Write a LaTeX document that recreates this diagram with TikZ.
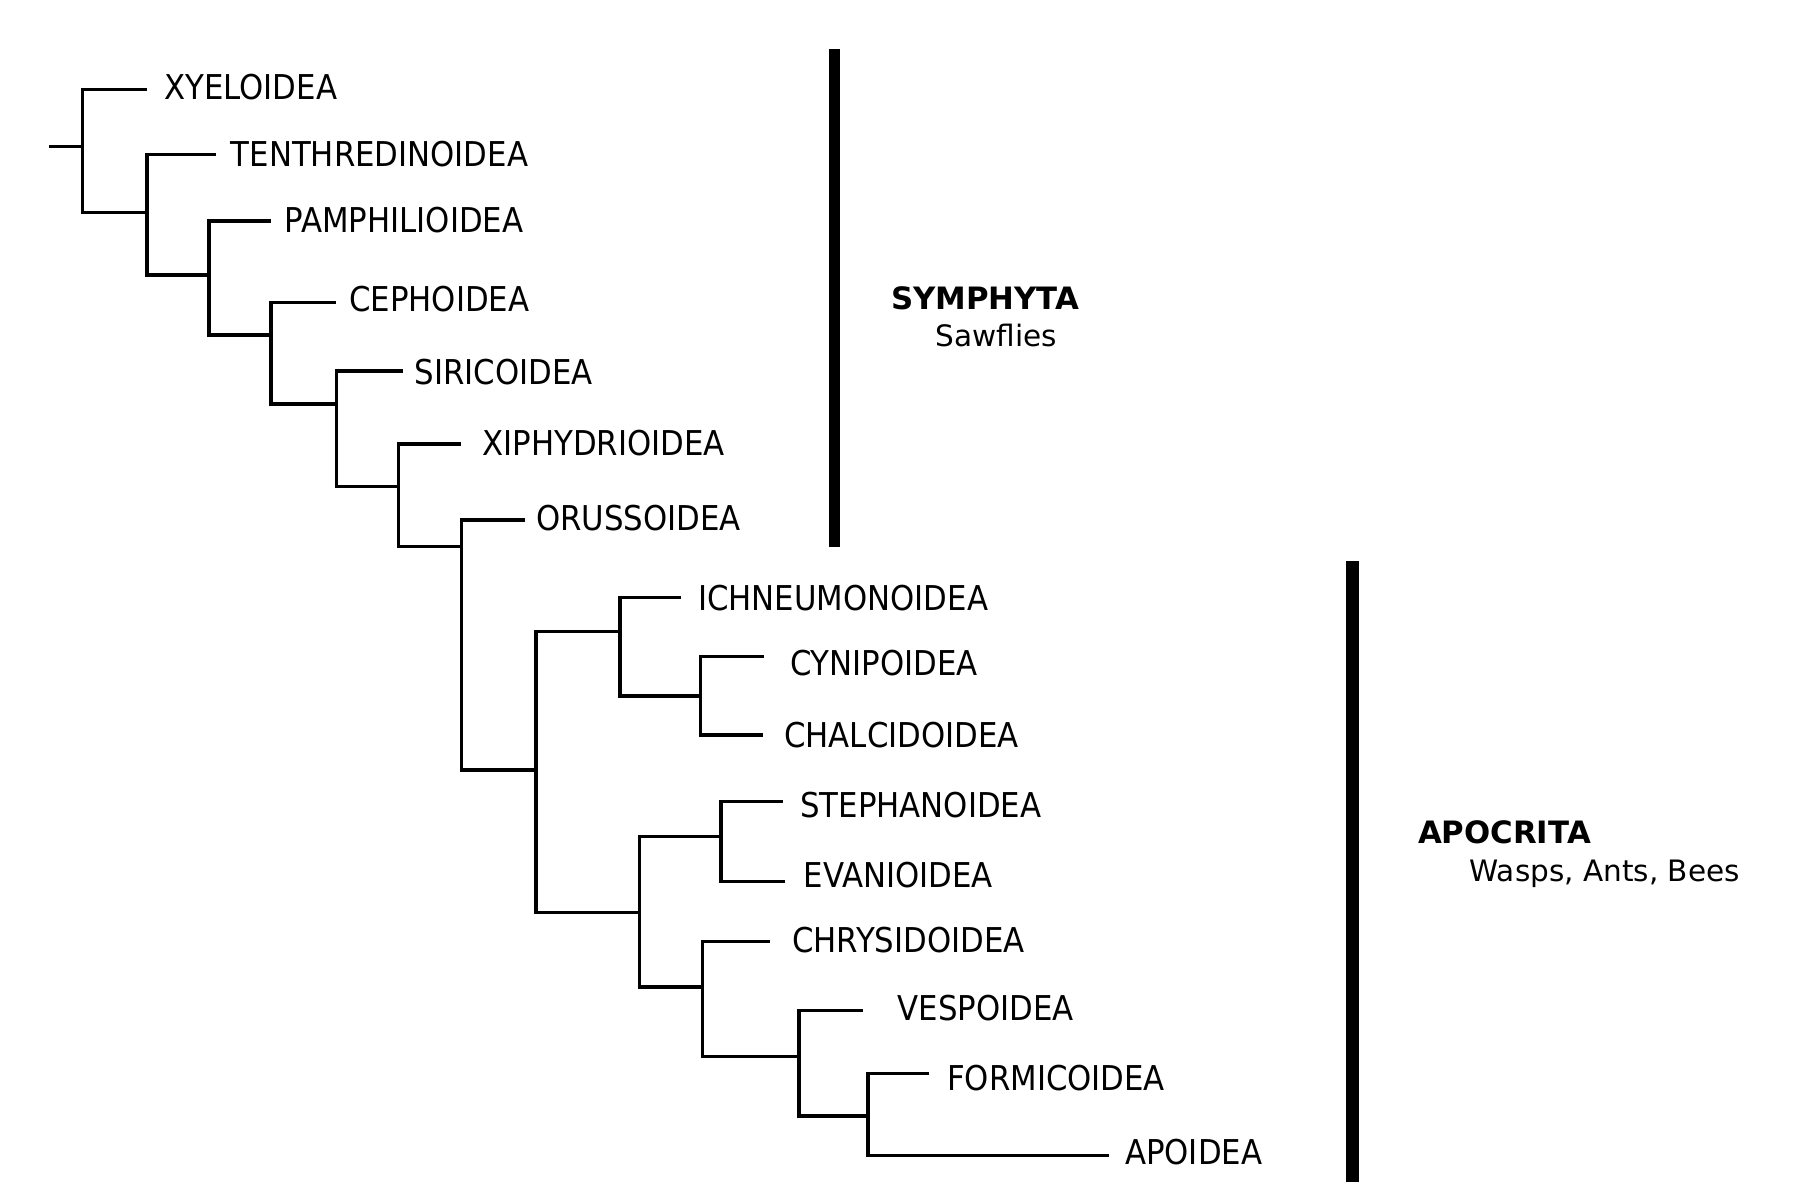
\documentclass[tikz,border=0pt]{standalone}
\usepackage{fontspec}
\setmainfont{DejaVu Sans}
\newfontfamily\condfont{DejaVu Sans Condensed}
\begin{document}
\begin{tikzpicture}[x=1pt,y=-1pt,
  br/.style={line width=3.3pt,line cap=rect,line join=miter},
  bar/.style={line width=11.5pt},
  leaf/.style={anchor=base west,inner sep=0pt,font=\condfont\fontsize{34.2}{40}\selectfont},
  grp/.style={anchor=base west,inner sep=0pt,font=\fontsize{30.8}{36}\selectfont\bfseries},
  sub/.style={anchor=base west,inner sep=0pt,font=\fontsize{29.5}{36}\selectfont}]
\fill[white] (0,0) rectangle (1800,1200);
\useasboundingbox (0,0) rectangle (1800,1200);
% internal nodes
\coordinate (R) at (82.7,146.7);
\coordinate (stub) at (50.5,146.7);
\coordinate (n2) at (146.9,212.7);
\coordinate (n3) at (208.9,275);
\coordinate (n4) at (270.9,335);
\coordinate (n5) at (336.4,404);
\coordinate (n6) at (398.4,486.7);
\coordinate (n7) at (461.5,546.7);
\coordinate (n8) at (536.1,770);
\coordinate (n9) at (619.9,631.7);
\coordinate (n10) at (700.3,696);
\coordinate (n11) at (639.4,912.5);
\coordinate (n12) at (721,836.7);
\coordinate (n13) at (702.6,987);
\coordinate (n14) at (799,1056.7);
\coordinate (n15) at (867.9,1116);
% leaf tips
\coordinate (t1) at (145.8,89.3);
\coordinate (t2) at (214.7,154.3);
\coordinate (t3) at (269.8,221);
\coordinate (t4) at (334,302.7);
\coordinate (t5) at (401.8,371);
\coordinate (t6) at (459.2,444);
\coordinate (t7) at (523.5,520);
\coordinate (t8) at (679.6,597.3);
\coordinate (t9) at (762.3,656.7);
\coordinate (t10) at (761,735);
\coordinate (t11) at (781.8,801.7);
\coordinate (t12) at (783,881.7);
\coordinate (t13) at (768,941.7);
\coordinate (t14) at (861,1010.7);
\coordinate (t15) at (927.6,1073.3);
\coordinate (t16) at (1107.8,1155.7);
% labels
\node[leaf] (l1) at (164.2,99) {XYELOIDEA};
\node[leaf] (l2) at (230.7,166.3) {TENTHREDINOIDEA};
\node[leaf] (l3) at (284.7,232.3) {PAMPHILIOIDEA};
\node[leaf] (l4) at (349,311.3) {CEPHOIDEA};
\node[leaf] (l5) at (414.4,384) {SIRICOIDEA};
\node[leaf] (l6) at (482.2,455.3) {XIPHYDRIOIDEA};
\node[leaf] (l7) at (536.1,530.3) {ORUSSOIDEA};
\node[leaf] (l8) at (698,610.3) {ICHNEUMONOIDEA};
\node[leaf] (l9) at (789.8,675.3) {CYNIPOIDEA};
\node[leaf] (l10) at (784,747.3) {CHALCIDOIDEA};
\node[leaf] (l11) at (800.2,817.3) {STEPHANOIDEA};
\node[leaf] (l12) at (803.6,887.3) {EVANIOIDEA};
\node[leaf] (l13) at (792,952.3) {CHRYSIDOIDEA};
\node[leaf] (l14) at (897.7,1020.3) {VESPOIDEA};
\node[leaf] (l15) at (947,1090.3) {FORMICOIDEA};
\node[leaf] (l16) at (1125,1164) {APOIDEA};
% tree
\draw[br] (stub) -- (R);
\draw[br] (t1) -- (t1 -| R) -- (n2 -| R) -- (n2);
\draw[br] (t2) -- (t2 -| n2) -- (n3 -| n2) -- (n3);
\draw[br] (t3) -- (t3 -| n3) -- (n4 -| n3) -- (n4);
\draw[br] (t4) -- (t4 -| n4) -- (n5 -| n4) -- (n5);
\draw[br] (t5) -- (t5 -| n5) -- (n6 -| n5) -- (n6);
\draw[br] (t6) -- (t6 -| n6) -- (n7 -| n6) -- (n7);
\draw[br] (t7) -- (t7 -| n7) -- (n8 -| n7) -- (n8);
\draw[br] (n9) -- (n9 -| n8) -- (n11 -| n8) -- (n11);
\draw[br] (t8) -- (t8 -| n9) -- (n10 -| n9) -- (n10);
\draw[br] (t9) -- (t9 -| n10) -- (t10 -| n10) -- (t10);
\draw[br] (n12) -- (n12 -| n11) -- (n13 -| n11) -- (n13);
\draw[br] (t11) -- (t11 -| n12) -- (t12 -| n12) -- (t12);
\draw[br] (t13) -- (t13 -| n13) -- (n14 -| n13) -- (n14);
\draw[br] (t14) -- (t14 -| n14) -- (n15 -| n14) -- (n15);
\draw[br] (t15) -- (t15 -| n15) -- (t16 -| n15) -- (t16);
% group bars
\coordinate (s1) at (834.6,49.4);
\coordinate (s2) at (834.6,546.5);
\coordinate (a1) at (1352.3,561.4);
\coordinate (a2) at (1352.3,1182.4);
\draw[bar] (s1) -- (s2);
\draw[bar,line width=12.5pt] (a1) -- (a2);
\node[grp] (sym) at (891,309.5) {SYMPHYTA};
\node[sub] (saw) at (935.6,346) {Sawflies};
\node[grp] (apo) at (1417.8,843) {APOCRITA};
\node[sub] (wab) at (1469.4,881) {Wasps, Ants, Bees};
\end{tikzpicture}
\end{document}
